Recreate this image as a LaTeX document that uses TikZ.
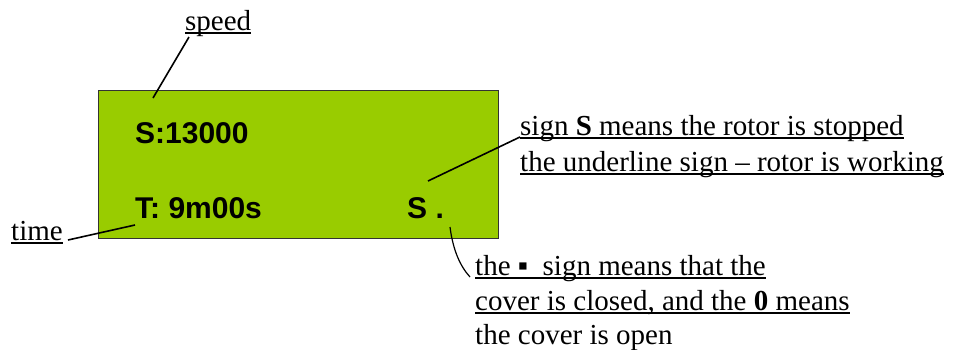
\documentclass[tikz,border=0pt]{standalone}
\usepackage{fontspec}
\setmainfont{Liberation Serif}
\newfontfamily\lcdfont{Liberation Sans}
\definecolor{lcdgreen}{HTML}{99CC00}
\definecolor{lcdborder}{HTML}{333333}
\newcommand\myul[1]{\leavevmode\setbox0\hbox{#1}\rlap{\rule[-4pt]{\wd0}{1.6pt}}\box0}
\tikzset{
  lbl/.style={inner sep=0pt, anchor=base west, font=\fontsize{29}{35}\selectfont},
  lcdtxt/.style={inner sep=0pt, anchor=base west, font=\lcdfont\bfseries\fontsize{30}{35}\selectfont},
  conn/.style={line width=1.6pt, black},
}
\begin{document}
\begin{tikzpicture}[x=1pt,y=-1pt]
\useasboundingbox (0,0) rectangle (957,349);
\node[draw=lcdborder, line width=1.3pt, fill=lcdgreen, minimum width=400pt, minimum height=148pt, anchor=north west, inner sep=0pt] (lcd) at (98,90) {};
% display texts
\node[lcdtxt] (speedval) at (135,143) {S:13000};
\node[lcdtxt] (timeval) at (135,218) {T: 9m00s};
\node[lcdtxt] (status) at (407,218) {S .};
% labels
\node[lbl] (speed) at (185,30) {\myul{speed}};
\node[lbl] (time) at (11,240) {\myul{time}};
\node[lbl] (signA) at (520,135) {\myul{sign \textbf{S} means the rotor is stopped}};
\node[lbl] (signB) at (520,171) {\myul{the underline sign – rotor is working}};
\node[lbl] (covA) at (475,275) {\myul{the ▪\ \ sign means that the}};
\node[lbl] (covB) at (475,310) {\myul{cover is closed, and the \textbf{0} means}};
\node[lbl] (covC) at (475,344) {the cover is open};
% connector end points
\coordinate (sp1) at (189,37);
\coordinate (sp2) at (153,98);
\coordinate (tm1) at (68,240);
\coordinate (tm2) at (135,225);
\coordinate (st1) at (428,181);
\coordinate (st2) at (520,137);
\coordinate (dt1) at (450,227);
\coordinate (dt2) at (470,277);
\draw[conn] (sp1) -- (sp2);
\draw[conn] (tm1) -- (tm2);
\draw[conn] (st1) -- (st2);
\draw[line width=1.2pt] (dt1) .. controls (453,250) and (460,266) .. (dt2);
\end{tikzpicture}
\end{document}
